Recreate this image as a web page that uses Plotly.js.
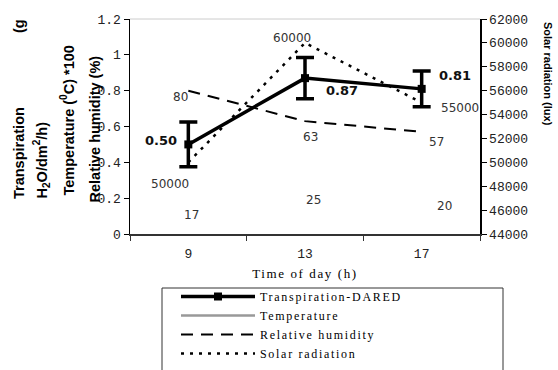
<!DOCTYPE html>
<html><head><meta charset="utf-8">
<script src="https://cdn.plot.ly/plotly-3.0.1.min.js"></script>
<style>
html,body{margin:0;padding:0;background:#fff}
.legendtext{letter-spacing:1.7px}
.g-xtitle text{letter-spacing:1.6px}
</style>
</head><body><div id="chart" style="width:558px;height:370px"></div>
<script>
const times = ['9', '13', '17'];
const transpiration = [0.50, 0.87, 0.81];
const transpirationErr = [0.125, 0.115, 0.10];
const temperature = [17, 25, 20];
const humidity = [80, 63, 57];
const solar = [50000, 60000, 55000];
const leftTickVals = [0, 0.2, 0.4, 0.6, 0.8, 1, 1.2];
const leftTickText = ['0', '0.2', '0.4', '0.6', '0.8', '1', '1.2'];
const rightTickVals = [44000, 46000, 48000, 50000, 52000, 54000, 56000, 58000, 60000, 62000];

const L = 130, R = 480, T = 19, B = 234;
const px = x => (x - L) / (R - L);
const py = y => (B - y) / (B - T);

const tempScaled = temperature.map(v => v / 100);
const humScaled = humidity.map(v => v / 100);

const tickFont = {family: 'Liberation Mono', size: 13, color: '#222'};
const labFont = {family: 'DejaVu Sans', size: 12, color: '#333'};

const traces = [
  {x: times, y: transpiration, name: 'Transpiration-DARED', type: 'scatter', mode: 'lines+markers',
   line: {color: '#000', width: 3.5}, marker: {symbol: 'square', size: 8, color: '#000'},
   error_y: {type: 'data', array: transpirationErr, visible: true, color: '#000', thickness: 3.5, width: 9}},
  {x: times, y: times.map(() => null), name: 'Temperature', type: 'scatter', mode: 'lines',
   line: {color: '#999', width: 2.5}},
  {x: times, y: humScaled, name: 'Relative humidity', type: 'scatter', mode: 'lines',
   line: {color: '#000', width: 2, dash: '12px,8px'}},
  {x: times, y: solar, name: 'Solar radiation', type: 'scatter', mode: 'lines', yaxis: 'y2',
   line: {color: '#000', width: 2.5, dash: '3px,6px'}},
  {x: times, y: tempScaled, type: 'scatter', mode: 'none', showlegend: false, hoverinfo: 'skip'}
];

const annotations = [];
const tOff = [[-27, 4], [37, -12], [33, 13]];
const hOff = [[-8, -6], [5, -16], [15, -10]];
const sOff = [[-18, -22], [-13, 5], [38, -5]];
const teOff = [[3, -11], [8, -11], [23, -8]];
times.forEach((t, i) => {
  annotations.push({x: i, y: transpiration[i], xref: 'x', yref: 'y', text: transpiration[i].toFixed(2),
    showarrow: false, xshift: tOff[i][0], yshift: tOff[i][1],
    font: {family: 'DejaVu Sans', size: 13, color: '#111', weight: 'bold'}});
  annotations.push({x: i, y: humScaled[i], xref: 'x', yref: 'y', text: String(humidity[i]),
    showarrow: false, xshift: hOff[i][0], yshift: hOff[i][1], font: labFont});
  annotations.push({x: i, y: solar[i], xref: 'x', yref: 'y2', text: String(solar[i]),
    showarrow: false, xshift: sOff[i][0], yshift: sOff[i][1], font: labFont});
  annotations.push({x: i, y: tempScaled[i], xref: 'x', yref: 'y', text: String(temperature[i]),
    showarrow: false, xshift: teOff[i][0], yshift: teOff[i][1], font: labFont});
});

const titleFont = {family: 'Liberation Sans', size: 14.5, color: '#000', weight: 'bold'};
const leftTitles = [
  {text: 'Transpiration', x: 19, y0: 104, y1: 202},
  {text: 'H<sub>2</sub>O/dm<sup>2</sup>/h)', x: 41, y0: 119, y1: 202},
  {text: 'Temperature (<sup>0</sup>C) *100', x: 67, y0: 39, y1: 202},
  {text: 'Relative humidity (%)', x: 94.5, y0: 56, y1: 202},
  {text: '(g', x: 19, y0: 19, y1: 33}
];
leftTitles.forEach(o => annotations.push({xref: 'paper', yref: 'paper', x: px(o.x), y: py((o.y0 + o.y1) / 2),
  xanchor: 'center', yanchor: 'middle', textangle: -90, text: o.text, showarrow: false, font: titleFont}));
annotations.push({xref: 'paper', yref: 'paper', x: px(548), y: py(20), xanchor: 'center', yanchor: 'top',
  textangle: 90, text: 'Solar radiation (lux)', showarrow: false,
  font: {family: 'Liberation Sans', size: 11, color: '#000', weight: 'bold'}});

const layout = {
  width: 558, height: 370,
  margin: {l: L, r: 558 - R, t: T, b: 370 - B, autoexpand: false},
  paper_bgcolor: '#fff', plot_bgcolor: '#fff',
  showlegend: true,
  legend: {x: px(176), y: py(282), xanchor: 'left', yanchor: 'top', itemwidth: 74,
    font: {family: 'Liberation Serif', size: 12, color: '#000'}, bgcolor: 'rgba(0,0,0,0)',
    tracegroupgap: 0},
  xaxis: {type: 'category', range: [-0.5, 2.5], tickson: 'boundaries', ticks: 'outside', ticklen: 5,
    tickcolor: '#333', linecolor: '#333', linewidth: 2, showline: true, showgrid: false, zeroline: false,
    tickfont: tickFont, ticklabelstandoff: 6,
    title: {text: 'Time of day (h)', font: {family: 'Liberation Serif', size: 13, color: '#000'}, standoff: 8}},
  yaxis: {range: [0, 1.2], tickvals: leftTickVals, ticktext: leftTickText, ticks: 'outside', ticklen: 5,
    tickcolor: '#000', linecolor: '#000', linewidth: 1.5, showline: true, showgrid: false, zeroline: false,
    tickfont: tickFont},
  yaxis2: {overlaying: 'y', side: 'right', range: [44000, 62000], tickvals: rightTickVals, tickformat: 'd',
    ticks: 'outside', ticklen: 5, tickcolor: '#000', linecolor: '#000', linewidth: 1.5, showline: true,
    showgrid: false, zeroline: false, tickfont: tickFont},
  shapes: [
    {type: 'line', xref: 'paper', yref: 'paper', x0: 0, x1: 1, y0: 1, y1: 1, line: {color: '#ccc', width: 1}},
    {type: 'rect', xref: 'paper', yref: 'paper', x0: px(162), x1: px(503), y0: py(288), y1: py(400),
     line: {color: '#333', width: 1}}
  ],
  annotations: annotations
};

Plotly.newPlot('chart', traces, layout, {displayModeBar: false, staticPlot: true});
</script></body></html>
